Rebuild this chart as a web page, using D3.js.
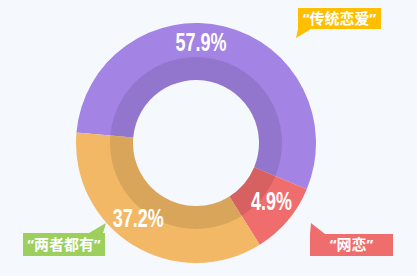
<!DOCTYPE html>
<html>
<head>
<meta charset="utf-8">
<script src="https://cdn.jsdelivr.net/npm/d3@7"></script>
<style>
  html, body { margin: 0; padding: 0; background: #f5f9fd; }
  svg { display: block; }
</style>
</head>
<body>
<div id="chart"></div>
<script>
'use strict';

// data
var categories = ['“传统恋爱”', '“网恋”', '“两者都有”'];
var pctLabels  = ['57.9%', '4.9%', '37.2%'];
var shares     = [54.9, 9.8, 35.3];   // drawn slice sizes
var colors     = ['#a383e4', '#f06d6d', '#f2b866'];
var tagColors  = ['#ffbf00', '#f06d6d', '#9dcf5c'];

var W = 417, H = 276;
var cx = 196, cy = 143;
var rOuter = 120, rInner = 63, rBand = 86;

var svg = d3.select('#chart').append('svg')
    .attr('width', W)
    .attr('height', H);

svg.append('rect')
    .attr('width', W)
    .attr('height', H)
    .attr('fill', '#f5f9fd');

var g = svg.append('g')
    .attr('transform', 'translate(' + cx + ',' + cy + ')');

var startA = -85 * Math.PI / 180;
var pie = d3.pie()
    .sort(null)
    .value(function(d) { return d; })
    .startAngle(startA)
    .endAngle(startA + 2 * Math.PI);

var arcs = pie(shares);

var arc = d3.arc().innerRadius(rInner).outerRadius(rOuter);
var band = d3.arc().innerRadius(rInner).outerRadius(rBand);

g.selectAll('path.slice')
    .data(arcs)
    .enter().append('path')
    .attr('class', 'slice')
    .attr('d', arc)
    .attr('fill', function(d, i) { return colors[i]; });

// darker inner band
g.append('path')
    .attr('d', band({startAngle: 0, endAngle: 2 * Math.PI}))
    .attr('fill', '#000')
    .attr('opacity', 0.1);

// percentage labels
var labelShift = [-11, -3, 6];  // degrees, nudges from the centroid
var labelR = [101, 95, 95];
g.selectAll('text.pct')
    .data(arcs)
    .enter().append('text')
    .attr('class', 'pct')
    .attr('transform', function(d, i) {
        var a = (d.startAngle + d.endAngle) / 2 + labelShift[i] * Math.PI / 180;
        var x = Math.sin(a) * labelR[i], y = -Math.cos(a) * labelR[i];
        return 'translate(' + x + ',' + y + ') scale(0.72,1)';
    })
    .attr('text-anchor', 'middle')
    .attr('dy', '0.36em')
    .attr('fill', '#fff')
    .style('font-family', '"Liberation Sans", Arial, sans-serif')
    .style('font-weight', 'bold')
    .style('font-size', '25px')
    .text(function(d, i) { return pctLabels[i]; });

// callout tags
var tags = [
    {x: 298, y: 8,   w: 83, h: 21, tail: [[298, 29], [311, 29], [296, 38]]},
    {x: 310, y: 234, w: 83, h: 22, tail: [[310, 234], [325, 234], [311, 223]]},
    {x: 23,  y: 233, w: 82, h: 23, tail: [[89, 233], [103, 233], [106, 223]]}
];

var tg = svg.selectAll('g.tag')
    .data(tags)
    .enter().append('g')
    .attr('class', 'tag');

tg.append('polygon')
    .attr('points', function(d) { return d.tail.map(function(p) { return p.join(','); }).join(' '); })
    .attr('fill', function(d, i) { return tagColors[i]; });

tg.append('rect')
    .attr('x', function(d) { return d.x; })
    .attr('y', function(d) { return d.y; })
    .attr('width', function(d) { return d.w; })
    .attr('height', function(d) { return d.h; })
    .attr('fill', function(d, i) { return tagColors[i]; });

tg.append('text')
    .attr('x', function(d) { return d.x + d.w / 2; })
    .attr('y', function(d) { return d.y + d.h / 2; })
    .attr('dy', '0.36em')
    .attr('text-anchor', 'middle')
    .attr('fill', '#fff')
    .style('font-family', '"Noto Sans", "Noto Sans CJK SC", sans-serif')
    .style('font-weight', 'bold')
    .style('font-size', '15px')
    .text(function(d, i) { return categories[i]; });
</script>
</body>
</html>
